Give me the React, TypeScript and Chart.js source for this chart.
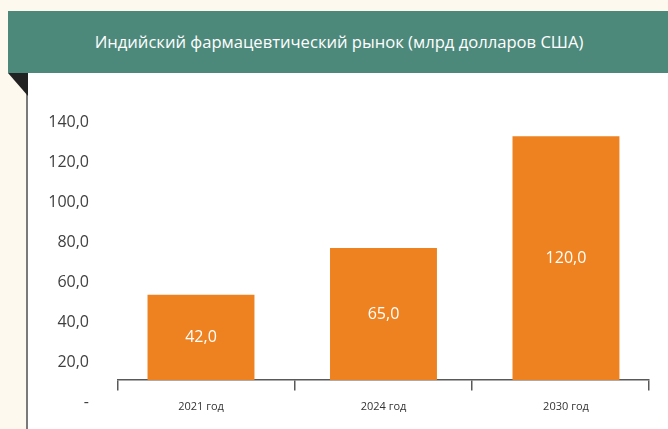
import React, { useEffect, useRef } from "react";
import { Chart, registerables } from "chart.js";

Chart.register(...registerables);

const title = "Индийский фармацевтический рынок (млрд долларов США)";
const categories = ["2021 год", "2024 год", "2030 год"];
const values = [42.0, 65.0, 120.0];
// Value-axis tick values as printed on the original (its labels sit half a step off the bars' baseline)
const yTickValues = [0, 20, 40, 60, 80, 100, 120, 140];
const yTickLabels = ["-", "20,0", "40,0", "60,0", "80,0", "100,0", "120,0", "140,0"];
// Tick marks of the category axis (boundaries 0..3)
const xTickMarks = [0, 1, 2, 3];

const fmt = (v: number) => v.toFixed(1).replace(".", ",");

const valueLabelPlugin = {
  id: "valueLabels",
  afterDatasetsDraw(chart: any) {
    const ctx = chart.ctx;
    const meta = chart.getDatasetMeta(0);
    ctx.save();
    ctx.fillStyle = "#ffffff";
    ctx.font = "16px 'Open Sans'";
    ctx.textAlign = "center";
    ctx.textBaseline = "middle";
    meta.data.forEach((bar: any, i: number) => {
      const p = bar.getProps(["x", "y", "base"], true);
      ctx.fillText(fmt(values[i]), p.x, (p.y + p.base) / 2);
    });
    ctx.restore();
  },
};

export default function App() {
  const ref = useRef<HTMLCanvasElement | null>(null);

  useEffect(() => {
    if (!ref.current) return;
    const chart = new Chart(ref.current, {
      type: "bar",
      data: {
        datasets: [
          {
            data: values.map((v, i) => ({ x: i, y: v })),
            backgroundColor: "#ef8220",
            borderWidth: 0,
            categoryPercentage: 1,
            barPercentage: 0.586,
            xAxisID: "x",
            yAxisID: "y",
          },
        ],
      },
      options: {
        animation: false,
        responsive: false,
        devicePixelRatio: 1,
        layout: { padding: { top: 120, left: 0, right: 19, bottom: 0 } },
        plugins: {
          legend: { display: false },
          tooltip: { enabled: false },
          title: { display: false },
        },
        scales: {
          x: {
            type: "linear",
            position: "bottom",
            offset: false,
            min: -0.4548,
            max: 2.455,
            grid: { display: false, drawTicks: false, offset: false },
            border: { display: false },
            ticks: {
              color: "#333333",
              font: { family: "'Open Sans'", size: 11 },
              padding: 20,
              autoSkip: false,
              maxRotation: 0,
              callback: (v: any) => categories[v] ?? "",
            },
            afterBuildTicks: (s: any) => {
              s.ticks = categories.map((_c, i) => ({ value: i }));
            },
            afterFit: (s: any) => {
              s.height = 49;
            },
          },
          x2: {
            type: "linear",
            axis: "x",
            position: { y: 0 },
            offset: false,
            min: 0,
            max: 3,
            grid: {
              display: true,
              offset: false,
              drawOnChartArea: false,
              drawTicks: true,
              tickLength: 10,
              color: "#595959",
              lineWidth: 1.5,
            },
            border: { display: true, color: "#595959", width: 1.5 },
            ticks: { display: false },
            afterBuildTicks: (s: any) => {
              s.ticks = xTickMarks.map((v) => ({ value: v }));
            },
          },
          y: {
            display: false,
            min: 0,
            max: 128,
          },
          yl: {
            type: "linear",
            axis: "y",
            position: "left",
            min: 10,
            max: 140,
            grid: { display: false, drawTicks: false },
            border: { display: false },
            ticks: {
              autoSkip: false,
              color: "#404040",
              font: { family: "'Open Sans'", size: 16 },
              padding: 29,
              labelOffset: 2,
              callback: (_v: any, i: number) => yTickLabels[i],
            },
            afterBuildTicks: (s: any) => {
              s.ticks = yTickValues.map((v) => ({ value: v }));
            },
            afterFit: (s: any) => {
              s.width = 118;
            },
          },
        },
      },
      plugins: [valueLabelPlugin],
    });
    return () => chart.destroy();
  }, []);

  return (
    <div
      style={{
        position: "fixed",
        left: 0,
        top: 0,
        width: 668,
        height: 429,
        background: "#fdf9ee",
        overflow: "hidden",
        fontFamily: "'Open Sans', sans-serif",
      }}
    >
      <div
        style={{
          position: "absolute",
          left: 26,
          top: 73,
          width: 642,
          height: 356,
          background: "#ffffff",
          borderLeft: "2px solid #7a7a7a",
          boxSizing: "border-box",
        }}
      />
      <div
        style={{
          position: "absolute",
          left: 8,
          top: 73,
          width: 20,
          height: 23,
          background: "#222222",
          clipPath: "polygon(0 0, 100% 0, 100% 100%)",
        }}
      />
      <div
        style={{
          position: "absolute",
          left: 8,
          top: 11,
          width: 660,
          height: 62,
          background: "#4d897b",
          color: "#ffffff",
          fontSize: 16.6,
          display: "flex",
          alignItems: "center",
          justifyContent: "center",
          paddingLeft: 2,
          paddingBottom: 1,
          boxSizing: "border-box",
        }}
      >
        {title}
      </div>
      <canvas
        ref={ref}
        width={668}
        height={429}
        style={{ position: "absolute", left: 0, top: 0, width: 668, height: 429 }}
      />
    </div>
  );
}
